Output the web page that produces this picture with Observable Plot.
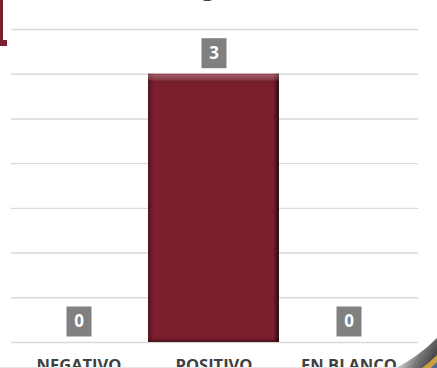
<!DOCTYPE html>
<html><head><meta charset="utf-8">
<script src="https://cdn.jsdelivr.net/npm/d3@7"></script>
<script src="https://cdn.jsdelivr.net/npm/@observablehq/plot@0.6"></script>
<style>
html,body{margin:0;padding:0;background:#fff;overflow:hidden;width:437px;height:368px;}
#wrap{position:relative;width:437px;height:368px;overflow:hidden;background:#fff;}
#title{position:absolute;top:-30px;left:150px;font:bold 24px "Open Sans";color:#404040;white-space:nowrap;line-height:32px;}
#chart{position:absolute;left:0;top:0;}
.br1{position:absolute;left:0;top:0;width:3px;height:46px;background:#7b1f2e;}
.br2{position:absolute;left:0;top:40px;width:7px;height:6px;background:#7b1f2e;}
.edge{position:absolute;left:0;top:367px;width:437px;height:1px;background:#e6e6e6;}
#deco{position:absolute;left:0;top:0;pointer-events:none;}
</style></head><body>
<div id="wrap">
  <div id="chart"></div>
  <div id="title">Diagnóstico</div>
  <div class="br1"></div><div class="br2"></div>
  <div class="edge"></div>
  <svg id="deco" width="437" height="368">
    <defs>
      <linearGradient id="swoosh" x1="0" y1="0" x2="1" y2="0.4">
        <stop offset="0" stop-color="#ffffff" stop-opacity="0"/>
        <stop offset="0.35" stop-color="#d0d0d0"/>
        <stop offset="0.7" stop-color="#7a7a7a"/>
        <stop offset="1" stop-color="#4a4a4a"/>
      </linearGradient>
    </defs>
    <path d="M396,368 Q419,356 437,338 L437,368 Z" fill="url(#swoosh)"/>
    <path d="M422,368 Q430,362 437,355 L437,368 Z" fill="#c9a040"/>
    <path d="M431,368 Q434,365 437,362 L437,368 Z" fill="#4a6a9a"/>
  </svg>
</div>
<script>
const categorias = ["NEGATIVO", "POSITIVO", "EN BLANCO"];
const valores = [0, 3, 0];
const lineasGuia = [0, 0.5, 1, 1.5, 2, 2.5, 3, 3.5];

const data = categorias.map((c, i) => ({cat: c, v: valores[i]}));
const boxSymbol = {draw(ctx) { ctx.rect(-12.5, -15, 25, 30); }};

const plot = Plot.plot({
  width: 437, height: 380,
  marginLeft: 8, marginRight: 18, marginTop: 29, marginBottom: 38,
  style: {fontFamily: "'Open Sans', sans-serif", background: "transparent", color: "#404040", overflow: "visible"},
  x: {domain: categorias, padding: 0.033, label: null},
  y: {domain: [0, 3.5], axis: null},
  marks: [
    Plot.ruleY(lineasGuia, {stroke: "#d9d9d9", strokeWidth: 1.4, insetLeft: 3, insetRight: 1}),
    Plot.barY(data, {x: "cat", y: "v", fill: "#7b1f2e"}),
    Plot.barY(data, {x: "cat", y: "v", fill: "url(#bevelH)"}),
    Plot.barY(data, {x: "cat", y: "v", fill: "url(#bevelV)"}),
    Plot.dot(data, {x: "cat", y: "v", symbol: boxSymbol, fill: "#808080", stroke: "none", dy: -21}),
    Plot.text(data, {x: "cat", y: "v", text: d => String(d.v), dy: -21, fill: "white", fontWeight: "bold", fontSize: 17}),
    Plot.axisX({tickSize: 0, tickPadding: 17, fontSize: 16.5, fontWeight: "bold", label: null})
  ]
});

const ns = "http://www.w3.org/2000/svg";
const defs = document.createElementNS(ns, "defs");
defs.innerHTML = `
<linearGradient id="bevelH" x1="0" y1="0" x2="1" y2="0">
  <stop offset="0" stop-color="#000" stop-opacity="0.35"/>
  <stop offset="0.025" stop-color="#000" stop-opacity="0.15"/>
  <stop offset="0.045" stop-color="#000" stop-opacity="0"/>
  <stop offset="0.955" stop-color="#000" stop-opacity="0"/>
  <stop offset="0.975" stop-color="#000" stop-opacity="0.3"/>
  <stop offset="1" stop-color="#000" stop-opacity="0.65"/>
</linearGradient>
<linearGradient id="bevelV" x1="0" y1="0" x2="0" y2="1">
  <stop offset="0" stop-color="#fff" stop-opacity="0.12"/>
  <stop offset="0.006" stop-color="#fff" stop-opacity="0.25"/>
  <stop offset="0.022" stop-color="#fff" stop-opacity="0.12"/>
  <stop offset="0.03" stop-color="#000" stop-opacity="0.06"/>
  <stop offset="0.04" stop-color="#000" stop-opacity="0"/>
  <stop offset="0.985" stop-color="#000" stop-opacity="0"/>
  <stop offset="1" stop-color="#000" stop-opacity="0.4"/>
</linearGradient>`;
plot.insertBefore(defs, plot.firstChild);
document.getElementById("chart").appendChild(plot);

// place title so that its "g" sits centered near x=208
const t = document.getElementById("title");
const cv = document.createElement("canvas").getContext("2d");
cv.font = 'bold 24px "Open Sans"';
const pre = cv.measureText("Dia").width, gw = cv.measureText("g").width;
t.style.left = (208 - pre - gw / 2) + "px";
</script>
</body></html>
